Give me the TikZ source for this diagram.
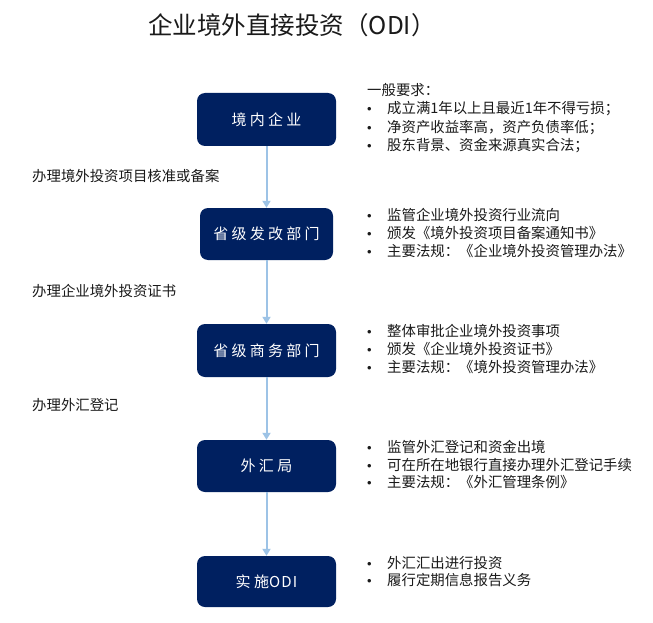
\documentclass[tikz,border=0pt]{standalone}
\usepackage{fontspec}
\setmainfont{Noto Sans CJK SC}
\newfontfamily\bulfont{Liberation Sans}
\usetikzlibrary{arrows.meta}
\definecolor{navy}{HTML}{002060}
\definecolor{arrowblue}{HTML}{9DC3E6}
\definecolor{txt}{HTML}{1A1A1A}
\begin{document}
\begin{tikzpicture}[x=1pt,y=-1pt,
  stepbox/.style={fill=navy,rounded corners=8pt,minimum width=139pt,minimum height=53pt,
    inner sep=0pt,text=white,font=\fontsize{15}{18}\selectfont\addfontfeature{LetterSpace=22}},
  flowarrow/.style={draw=arrowblue,line width=2pt,-{Triangle[width=8pt,length=7pt]}},
  line/.style={anchor=west,inner sep=0pt,text=txt,font=\fontsize{14.4}{18}\selectfont,
    text height=0.8em,text depth=0.2em},
  bul/.style={line},
]
\useasboundingbox (0,0) rectangle (653,623);
\fill[white] (0,0) rectangle (653,623);
% title
\node[inner sep=0pt,text=txt,font=\fontsize{24.5}{28}\selectfont] (title) at (292,25) {企业境外直接投资（ODI）};
% boxes
\node[stepbox] (b1) at (266.5,119.5) {境内企业};
\node[stepbox,minimum width=133pt,minimum height=52pt] (b2) at (266.5,234) {省级发改部门};
\node[stepbox] (b3) at (266.5,350.5) {省级商务部门};
\node[stepbox,minimum height=52pt] (b4) at (266.5,466) {外汇局};
\node[stepbox,minimum height=51pt] (b5) at (266.5,581.5) {实施\addfontfeature{LetterSpace=8}ODI};
% arrows
\draw[flowarrow] (b1.south) -- (b2.north);
\draw[flowarrow] (b2.south) -- (b3.north);
\draw[flowarrow] (b3.south) -- (b4.north);
\draw[flowarrow] (b4.south) -- (b5.north);
% left labels
\node[line] (l1) at (32,178) {办理境外投资项目核准或备案};
\node[line] (l2) at (32,293) {办理企业境外投资证书};
\node[line] (l3) at (32,407) {办理外汇登记};
% right blocks
\newcommand{\bitem}[1]{\makebox[20pt][l]{\bulfont\fontsize{13}{18}\selectfont •}#1}
\node[line] (r1a) at (367,93) {一般要求：};
\node[bul] (r1b) at (367,111) {\bitem{成立满1年以上且最近1年不得亏损；}};
\node[bul] (r1c) at (367,129) {\bitem{净资产收益率高，资产负债率低；}};
\node[bul] (r1d) at (367,147) {\bitem{股东背景、资金来源真实合法；}};
\node[bul] (r2a) at (367,217) {\bitem{监管企业境外投资行业流向}};
\node[bul] (r2b) at (367,235) {\bitem{颁发《境外投资项目备案通知书》}};
\node[bul] (r2c) at (367,253) {\bitem{主要法规：《企业境外投资管理办法》}};
\node[bul] (r3a) at (367,333) {\bitem{整体审批企业境外投资事项}};
\node[bul] (r3b) at (367,351) {\bitem{颁发《企业境外投资证书》}};
\node[bul] (r3c) at (367,369) {\bitem{主要法规：《境外投资管理办法》}};
\node[bul] (r4a) at (367,449) {\bitem{监管外汇登记和资金出境}};
\node[bul] (r4b) at (367,467) {\bitem{可在所在地银行直接办理外汇登记手续}};
\node[bul] (r4c) at (367,484) {\bitem{主要法规：《外汇管理条例》}};
\node[bul] (r5a) at (367,565) {\bitem{外汇汇出进行投资}};
\node[bul] (r5b) at (367,582) {\bitem{履行定期信息报告义务}};
\end{tikzpicture}
\end{document}
